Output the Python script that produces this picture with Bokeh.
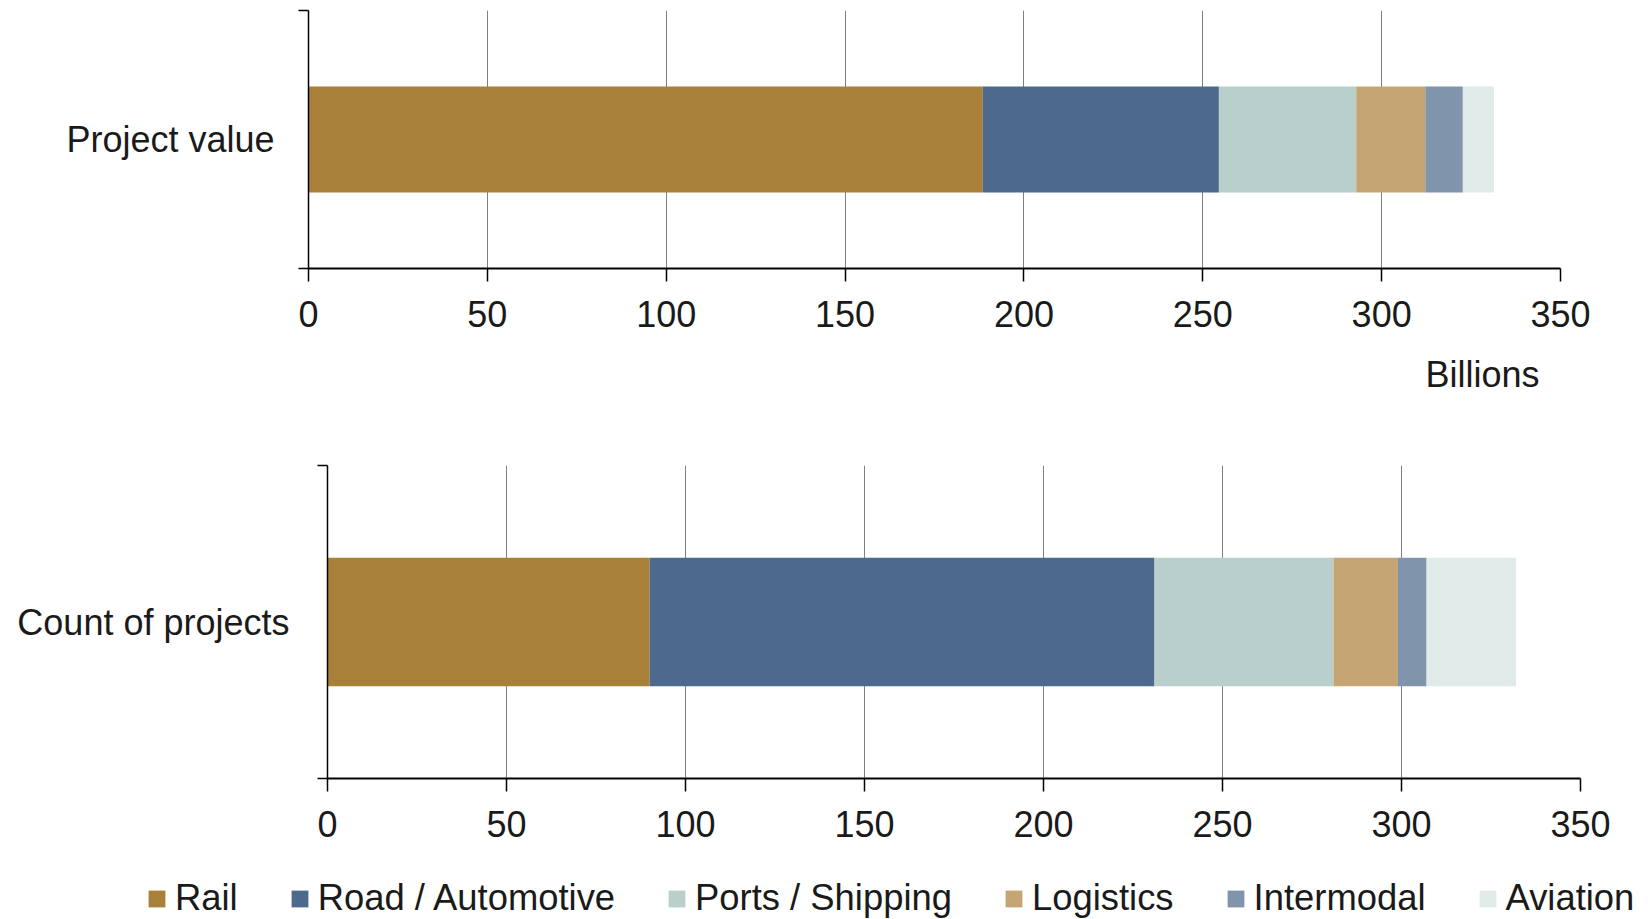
from bokeh.plotting import figure
from bokeh.models import Range1d, FixedTicker, ColumnDataSource, Legend, LegendItem, Title
from bokeh.embed import file_html
from bokeh.resources import INLINE

# ---- data ----
sectors = ["Rail", "Road / Automotive", "Ports / Shipping", "Logistics", "Intermodal", "Aviation"]
colors = ["#A8803A", "#4D6A8C", "#B8CFCC", "#C4A573", "#8094AC", "#E0EAE9"]
value_category = ["Project value"]
value_billions = [188.5, 66.0, 38.4, 19.3, 10.5, 8.7]
count_category = ["Count of projects"]
count_projects = [90, 141, 50, 18, 8, 25]
x_ticks = [0, 50, 100, 150, 200, 250, 300, 350]
x_max = 350
value_unit = "Billions"

FONT = "Liberation Sans"
FS = "36px"
TXT = "#1a1a1a"


def make_source(cats, vals):
    ys = [i + 0.5 for i in range(len(cats))]
    data = {"y": ys}
    for s, v in zip(sectors, vals):
        data[s] = [v]
    return ys, ColumnDataSource(data)


def make_fig(cats, vals, height, left, right, top, bottom, cat_standoff):
    ys, src = make_source(cats, vals)
    p = figure(width=1648, height=height, x_range=Range1d(0, x_max),
               y_range=Range1d(0, len(cats)), output_backend="svg",
               toolbar_location=None, min_border_left=left, min_border_right=right,
               min_border_top=top, min_border_bottom=bottom)
    p.outline_line_color = None
    p.background_fill_color = "white"
    p.border_fill_color = "white"
    rs = p.hbar_stack(sectors, y="y", height=0.41, color=colors, source=src, line_color=None)

    xa = p.xaxis[0]
    xa.ticker = FixedTicker(ticks=x_ticks)
    xa.major_tick_out = 13
    xa.major_tick_in = 0
    xa.minor_tick_out = 0
    xa.axis_line_width = 2
    xa.axis_line_color = "black"
    xa.major_tick_line_color = "black"
    xa.major_tick_line_width = 1.5
    xa.major_label_text_font = FONT
    xa.major_label_text_font_size = FS
    xa.major_label_text_color = TXT
    xa.major_label_standoff = 19

    ya = p.yaxis[0]
    ya.ticker = FixedTicker(ticks=ys, minor_ticks=[0, len(cats)])
    ya.major_label_overrides = {y: c for y, c in zip(ys, cats)}
    ya.major_tick_out = 0
    ya.major_tick_in = 0
    ya.minor_tick_out = 10
    ya.minor_tick_in = 0
    ya.minor_tick_line_color = "black"
    ya.minor_tick_line_width = 1.5
    ya.axis_line_width = 1.5
    ya.axis_line_color = "black"
    ya.major_label_text_font = FONT
    ya.major_label_text_font_size = FS
    ya.major_label_text_color = TXT
    ya.major_label_standoff = cat_standoff

    p.xgrid.ticker = FixedTicker(ticks=x_ticks)
    p.xgrid.grid_line_color = "#7f7f7f"
    p.xgrid.grid_line_width = 1
    p.ygrid.visible = False
    return p, rs, src


# top panel: frame x 308..1560, y 10..268
p1, _, _ = make_fig(value_category, value_billions, 440, 308, 88, 10, 172, 24)
p1.add_layout(Title(text=value_unit, align="right", offset=21, text_font=FONT,
                    text_font_size=FS, text_font_style="normal", text_color=TXT,
                    standoff=45), "below")

# bottom panel: frame x 327..1580, y 465..778 (page coords)
p2, rs2, src2 = make_fig(count_category, count_projects, 420, 327, 68, 25, 82, 28)

# legend strip (renderers hidden; only their legend swatches are shown)
p3 = figure(width=1648, height=59, x_range=Range1d(0, 1), y_range=Range1d(0, 1),
            output_backend="svg", toolbar_location=None,
            x_axis_location=None, y_axis_location=None,
            min_border_left=0, min_border_right=0, min_border_top=0, min_border_bottom=0)
p3.outline_line_color = None
p3.grid.visible = False
rs3 = p3.hbar_stack(sectors, y="y", height=0.41, color=colors, source=src2,
                    line_color=None, visible=False)
legend = Legend(items=[LegendItem(label=s, renderers=[r]) for s, r in zip(sectors, rs3)],
                location=(146, 0), orientation="horizontal",
                glyph_width=21, glyph_height=21, label_standoff=8, spacing=51,
                padding=0, margin=0, border_line_color=None, background_fill_alpha=0,
                inactive_fill_alpha=0,
                label_text_font=FONT, label_text_font_size="36.4px", label_text_color=TXT)
p3.add_layout(legend)

open("out.html", "w").write(file_html([p1, p2, p3], INLINE))
